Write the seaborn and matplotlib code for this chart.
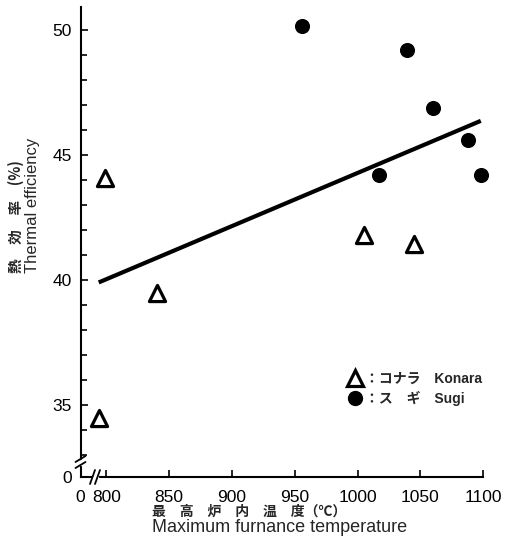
import numpy as np
import pandas as pd
import matplotlib
matplotlib.use("Agg")
import matplotlib.pyplot as plt
import seaborn as sns
from matplotlib.lines import Line2D

# ---- data ----
konara_temp = [799, 840, 1005, 1045, 794]
konara_eff = [44.1, 39.5, 41.8, 41.45, 34.5]
sugi_temp = [956, 1039, 1060, 1088, 1098, 1017]
sugi_eff = [50.15, 49.2, 46.9, 45.6, 44.2, 44.2]
x_tick_vals = [800, 850, 900, 950, 1000, 1050, 1100]
y_major_vals = [35, 40, 45, 50]
y_minor_vals = [33, 34, 36, 37, 38, 39, 41, 42, 43, 44, 46, 47, 48, 49]
legend_labels = ["：コナラ\u3000Konara", "：ス\u3000ギ\u3000Sugi"]

df = pd.DataFrame({
    "temp": konara_temp + sugi_temp,
    "eff": konara_eff + sugi_eff,
    "species": ["Konara"] * len(konara_temp) + ["Sugi"] * len(sugi_temp),
})

sns.set_style("ticks")
plt.rcParams["font.family"] = ["Liberation Sans", "Noto Sans CJK JP"]

W, H = 519, 546
fig = plt.figure(figsize=(W / 100, H / 100), dpi=100)
L, R, T, B = 80.5, 483.3, 7, 477
ax = fig.add_axes([L / W, 1 - B / H, (R - L) / W, (B - T) / H])

XMIN, XMAX = 779.5, 1100
YMIN, YMAX = 32.12, 50.92

sns.regplot(data=df, x="temp", y="eff", scatter=False, ci=None, truncate=True,
            color="black", line_kws={"lw": 3.0, "solid_capstyle": "butt"}, ax=ax)
sns.scatterplot(data=df[df.species == "Konara"], x="temp", y="eff", marker="^",
                s=135, facecolor="white", edgecolor="black", linewidth=2.3,
                ax=ax, zorder=4, legend=False, clip_on=False)
sns.scatterplot(data=df[df.species == "Sugi"], x="temp", y="eff", marker="o",
                s=118, color="black", edgecolor="black", linewidth=0,
                ax=ax, zorder=4, legend=False, clip_on=False)

ax.set_xlim(XMIN, XMAX)
ax.set_ylim(YMIN, YMAX)
ax.set_xlabel("")
ax.set_ylabel("")
for s in ["top", "right"]:
    ax.spines[s].set_visible(False)
for s in ["left", "bottom"]:
    ax.spines[s].set_linewidth(1.5)
    ax.spines[s].set_color("black")

ax.set_xticks([XMIN] + x_tick_vals, ["0"] + [str(v) for v in x_tick_vals])
ax.set_yticks([YMIN] + y_major_vals, ["0"] + [str(v) for v in y_major_vals])
ax.set_yticks(y_minor_vals, minor=True)
ax.tick_params(axis="both", which="major", direction="in", length=5, width=1.2,
               labelsize=12.5, color="black", labelcolor="black")
ax.tick_params(axis="x", which="major", pad=9.5)
ax.tick_params(axis="y", which="major", pad=6)
ax.tick_params(axis="y", which="minor", direction="in", length=4.5, width=1.2,
               color="black")
ax.xaxis.get_major_ticks()[0].tick1line.set_visible(False)
ax.yaxis.get_major_ticks()[0].tick1line.set_visible(False)

# axis breaks
def px2ax(px, py):
    return (px - L) / (R - L), (B - py) / (B - T)

for bx in (92.5, 97.5):
    x0, y0 = px2ax(bx - 2.5, B + 7)
    x1, y1 = px2ax(bx + 2.5, B - 7)
    ax.plot([x0, x1], [y0, y1], color="black", lw=1.3, transform=ax.transAxes,
            clip_on=False, zorder=6)
gx0, _ = px2ax(93.5, B)
gx1, _ = px2ax(96.5, B)
ax.plot([gx0, gx1], [0, 0], color="white", lw=2.5, transform=ax.transAxes,
        clip_on=False, zorder=5)
for by in (459, 465):
    x0, y0 = px2ax(L - 5, by + 3)
    x1, y1 = px2ax(L + 5, by - 3)
    ax.plot([x0, x1], [y0, y1], color="black", lw=1.3, transform=ax.transAxes,
            clip_on=False, zorder=6)
_, gy0 = px2ax(L, 460.5)
_, gy1 = px2ax(L, 463.5)
ax.plot([0, 0], [gy0, gy1], color="white", lw=2.5, transform=ax.transAxes,
        clip_on=False, zorder=5)

# legend
handles = [
    Line2D([], [], marker="^", ls="none", markersize=11, markerfacecolor="white",
           markeredgecolor="black", markeredgewidth=2.3),
    Line2D([], [], marker="o", ls="none", markersize=10, markerfacecolor="black",
           markeredgecolor="black"),
]
leg = ax.legend(handles, legend_labels, loc="upper left",
                bbox_to_anchor=(348 / W, 1 - 372 / H), bbox_transform=fig.transFigure,
                frameon=False, handlelength=1.0, handletextpad=0.22,
                labelspacing=0.35, borderpad=0, borderaxespad=0,
                prop={"size": 10, "weight": "bold"})

# axis titles
fig.text(152 / W, 1 - 512 / H, "最\u3000高\u3000炉\u3000内\u3000温\u3000度（℃）",
         ha="left", va="center", fontsize=10, weight="bold",
         family=["Noto Sans CJK JP"])
fig.text(152 / W, 1 - 527 / H, "Maximum furnance temperature",
         ha="left", va="center", fontsize=13)
fig.text(16 / W, 1 - 273 / H, "熱\u3000効\u3000率\u3000(%)", rotation=90,
         rotation_mode="anchor", ha="left", va="center", fontsize=10.5,
         weight="bold", family=["Noto Sans CJK JP"])
fig.text(33 / W, 1 - 273 / H, "Thermal efficiency", rotation=90,
         rotation_mode="anchor", ha="left", va="center", fontsize=12)

fig.savefig("out.png", dpi=100, facecolor="white")
